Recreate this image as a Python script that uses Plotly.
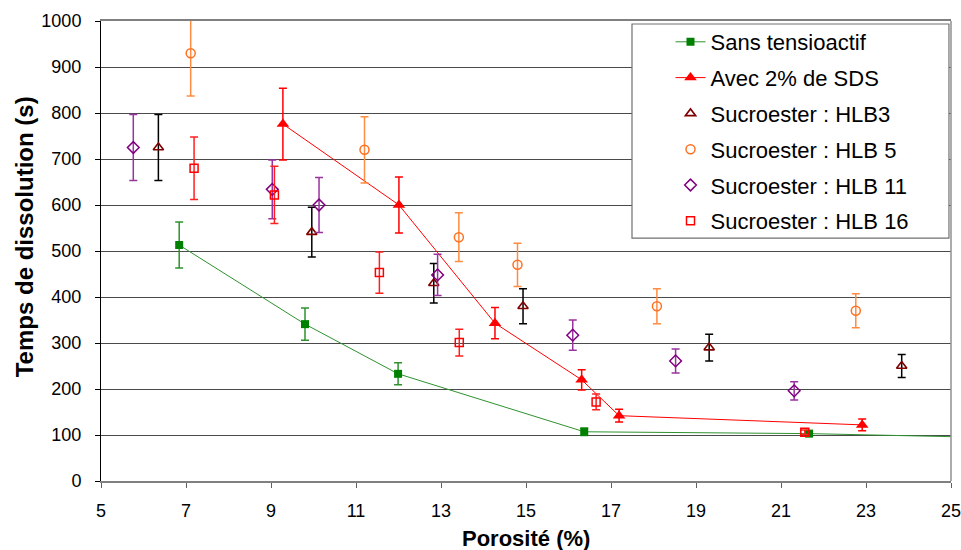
import plotly.graph_objects as go

# ---- data ----
green_x = [6.84, 9.80, 11.99, 16.37, 21.66, 25.2]
green_y = [513, 341, 233, 107, 103, 96]
green_err = [50, 35, 24, 8, 5, 0]

red_x = [9.28, 12.01, 14.27, 16.31, 17.19, 22.91]
red_y = [776, 600, 343, 220, 142, 122]
red_err = [78, 61, 34, 22, 14, 13]

hlb3_x = [6.35, 9.96, 12.83, 14.93, 19.31, 23.84]
hlb3_y = [725, 541, 430, 380, 290, 250]
hlb3_err = [72, 54, 43, 38, 29, 25]

hlb5_x = [7.11, 11.20, 13.42, 14.80, 18.08, 22.76]
hlb5_y = [930, 720, 530, 470, 380, 370]
hlb5_err = [93, 72, 53, 47, 38, 37]

hlb11_x = [5.76, 9.03, 10.13, 12.92, 16.10, 18.52, 21.31]
hlb11_y = [725, 634, 600, 448, 317, 261, 196]
hlb11_err = [72, 64, 60, 45, 33, 26, 20]

hlb16_x = [7.19, 9.08, 11.55, 13.43, 16.65, 21.56]
hlb16_y = [680, 622, 453, 301, 172, 106]
hlb16_err = [68, 62, 45, 29, 17, 5]

x_ticks = [5, 7, 9, 11, 13, 15, 17, 19, 21, 23, 25]
y_ticks = [0, 100, 200, 300, 400, 500, 600, 700, 800, 900, 1000]

FONT = "Liberation Sans, Arial, sans-serif"

fig = go.Figure()

def err(arr, color):
    return dict(type="data", array=arr, visible=True, color=color,
                thickness=1.5, width=4)

fig.add_trace(go.Scatter(
    x=green_x, y=green_y, name="Sans tensioactif", mode="lines+markers",
    line=dict(color="#2E922E", width=1),
    marker=dict(symbol="square", size=8, color="#008000"),
    error_y=err(green_err, "#2E922E"), legendgroup="g1"))

fig.add_trace(go.Scatter(
    x=red_x, y=red_y, name="Avec 2% de SDS", mode="lines+markers",
    line=dict(color="#FF0000", width=1),
    marker=dict(symbol="triangle-up", size=11, color="#FF0000"),
    error_y=err(red_err, "#FF0000"), legendgroup="g2"))

fig.add_trace(go.Scatter(
    x=hlb3_x, y=hlb3_y, name="Sucroester : HLB3", mode="markers",
    marker=dict(symbol="triangle-up-open", size=9, color="#800000",
                line=dict(width=1.6, color="#800000")),
    error_y=err(hlb3_err, "#000000"), legendgroup="g3"))

fig.add_trace(go.Scatter(
    x=hlb5_x, y=hlb5_y, name="Sucroester : HLB 5", mode="markers",
    marker=dict(symbol="circle-open", size=9, color="#FF7020",
                line=dict(width=1.5, color="#FF7020")),
    error_y=err(hlb5_err, "#FF8C40"), legendgroup="g4"))

fig.add_trace(go.Scatter(
    x=hlb11_x, y=hlb11_y, name="Sucroester : HLB 11", mode="markers",
    marker=dict(symbol="diamond-open", size=9, color="#800080",
                line=dict(width=1.5, color="#800080")),
    error_y=err(hlb11_err, "#9933A0"), legendgroup="g5"))

fig.add_trace(go.Scatter(
    x=hlb16_x, y=hlb16_y, name="Sucroester : HLB 16", mode="markers",
    marker=dict(symbol="square-open", size=8, color="#FF0000",
                line=dict(width=1.5, color="#FF0000")),
    error_y=err(hlb16_err, "#FF2020"), legendgroup="g6"))

fig.update_layout(
    width=961, height=550,
    margin=dict(l=101, r=10, t=21, b=69, autoexpand=False),
    paper_bgcolor="white", plot_bgcolor="white",
    font=dict(family=FONT, size=18, color="black"),
    showlegend=True,
    legend=dict(
        x=0.670, y=1.0, xanchor="left", yanchor="top",
        bgcolor="rgba(0,0,0,0)", borderwidth=0,
        font=dict(family=FONT, size=22, color="black"),
        traceorder="grouped", tracegroupgap=4.2,
    ),
    xaxis=dict(
        range=[5, 25], tickmode="array", tickvals=x_ticks,
        showgrid=False, zeroline=False,
        showline=True, linecolor="#808080", linewidth=1.5, mirror=True,
        ticks="outside", ticklen=5, tickcolor="#606060",
        ticklabelstandoff=8, ticklabeloverflow="allow",
        tickfont=dict(family=FONT, size=18),
    ),
    yaxis=dict(
        range=[0, 1000], tickmode="array", tickvals=y_ticks,
        showgrid=True, gridcolor="#4a4a4a", gridwidth=1, zeroline=False,
        showline=True, linecolor="#000000", linewidth=1,
        ticks="outside", ticklen=5, tickcolor="#000000",
        ticklabelstandoff=10, ticklabeloverflow="allow",
        tickfont=dict(family=FONT, size=18),
    ),
    shapes=[
        dict(type="line", xref="paper", yref="paper", x0=1, x1=1, y0=0, y1=1,
             line=dict(color="#909090", width=1.5)),
        dict(type="rect", xref="paper", yref="paper",
             x0=0.6247, x1=0.9976, y0=0.528, y1=0.9935,
             fillcolor="white", line=dict(color="#707070", width=1.2),
             layer="above"),
    ],
    annotations=[
        dict(text="<b>Temps de dissolution (s)</b>", xref="paper", yref="paper",
             x=-0.0906, y=0.532, textangle=-90, showarrow=False,
             xanchor="center", yanchor="middle",
             font=dict(family=FONT, size=24, color="black")),
        dict(text="<b>Porosité (%)</b>", xref="paper", yref="paper",
             x=0.5, y=-0.126, showarrow=False,
             xanchor="center", yanchor="middle",
             font=dict(family=FONT, size=22, color="black")),
    ],
)

fig.write_html("out.html", config={"displayModeBar": False},
               post_script="document.body.style.margin='0';document.body.style.padding='0';")
